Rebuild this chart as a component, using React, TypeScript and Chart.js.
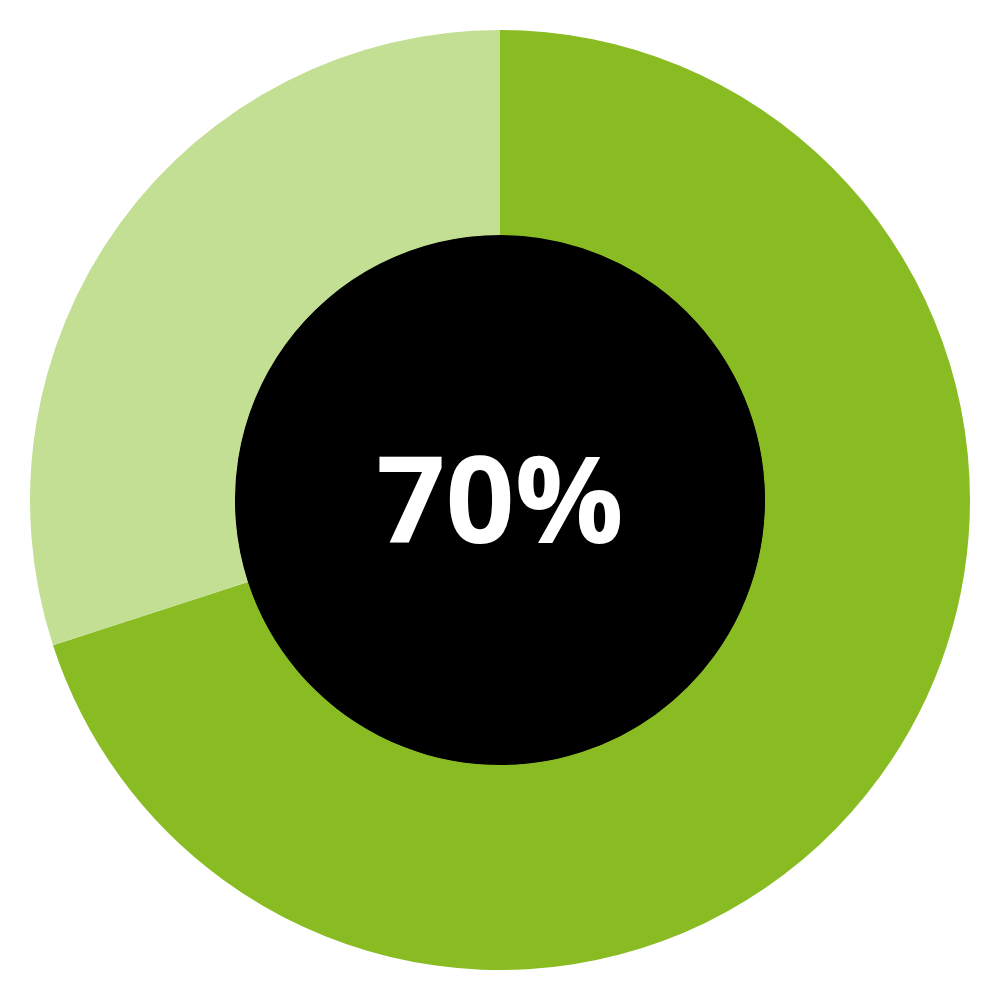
import React, { useEffect, useRef } from "react";
import { Chart, registerables } from "chart.js";

Chart.register(...registerables);

const labels = ["Achieved", "Remaining"];
const values = [70, 30];
const colors = ["#88BC22", "#C3DF93"];
const centerLabel = "70%";

const centerPlugin = {
  id: "centerPlugin",
  beforeDatasetsDraw(chart: any) {
    const meta = chart.getDatasetMeta(0);
    const arc = meta.data[0];
    if (!arc) return;
    const { x, y, innerRadius } = arc.getProps(["x", "y", "innerRadius"], true);
    const ctx = chart.ctx;
    ctx.save();
    ctx.beginPath();
    ctx.arc(x, y, innerRadius + 0.5, 0, Math.PI * 2);
    ctx.fillStyle = "#000000";
    ctx.fill();
    ctx.restore();
  },
  afterDatasetsDraw(chart: any) {
    const meta = chart.getDatasetMeta(0);
    const arc = meta.data[0];
    if (!arc) return;
    const { x, y } = arc.getProps(["x", "y"], true);
    const ctx = chart.ctx;
    ctx.save();
    ctx.fillStyle = "#ffffff";
    ctx.font = "bold 121px 'Open Sans'";
    ctx.textAlign = "center";
    ctx.textBaseline = "alphabetic";
    ctx.fillText(centerLabel, x, y + 43);
    ctx.restore();
  },
};

export default function App() {
  const ref = useRef<HTMLCanvasElement | null>(null);
  useEffect(() => {
    if (!ref.current) return;
    const chart = new Chart(ref.current, {
      type: "doughnut",
      data: {
        labels,
        datasets: [
          {
            data: values,
            backgroundColor: colors,
            borderWidth: 0,
          },
        ],
      },
      options: {
        animation: false,
        responsive: false,
        cutout: "56.4%",
        layout: { padding: 30 },
        plugins: {
          legend: { display: false },
          tooltip: { enabled: false },
        },
      },
      plugins: [centerPlugin],
    });
    return () => chart.destroy();
  }, []);
  return (
    <div style={{ position: "fixed", left: 0, top: 0, width: 1000, height: 1000, background: "#fff" }}>
      <canvas ref={ref} width={1000} height={1000} style={{ width: 1000, height: 1000 }} />
    </div>
  );
}
